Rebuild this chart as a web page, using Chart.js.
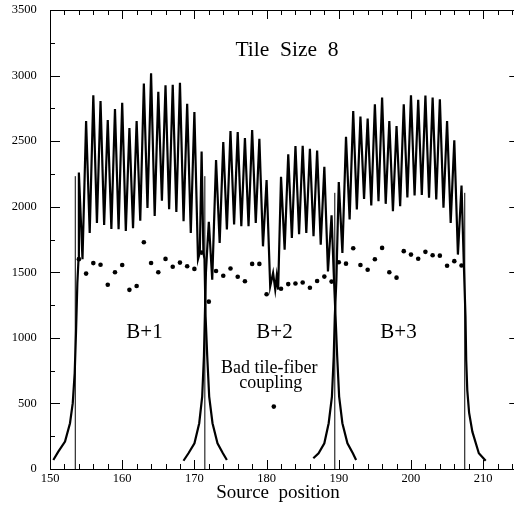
<!DOCTYPE html>
<html>
<head>
<meta charset="utf-8">
<script src="https://cdn.jsdelivr.net/npm/chart.js@4.4.1/dist/chart.umd.min.js"></script>
<style>
  html, body { margin: 0; padding: 0; background: #fff; overflow: hidden; }
  #wrap { width: 514px; height: 511px; }
</style>
</head>
<body>
<div id="wrap"><canvas id="c" width="514" height="511"></canvas></div>
<script>
// ---- axis ticks ----
const xTicks = [150, 160, 170, 180, 190, 200, 210];
const yTicks = [0, 500, 1000, 1500, 2000, 2500, 3000, 3500];

// ---- module B+1 scan (source position, signal) ----
const b1X = [150.46,151.15,152.08,152.77,153.15,153.42,153.6,153.79,153.95,
  154.0,154.5,155,155.5,156,156.5,157,157.5,158,158.5,159,159.5,160,160.5,161,161.5,162,162.5,163,163.5,164,164.5,165,165.5,166,166.5,167,167.5,168,168.5,169,169.5,170,170.5,
  170.75,171,171.25,171.4,
  171.55,171.78,172.05,172.51,173.2,173.95,174.5];
const b1Y = [69,132,209,349,502,731,1037,1419,1600,
  2260,1600,2653,1800,2850,1877,2806,1860,2661,1830,2745,1828,2792,1815,2600,1836,2653,1893,2939,1990,3018,1930,2877,2045,2926,1980,2930,1960,2945,1890,2785,1800,2722,1600,
  1650,2420,1650,1600,
  1164,858,552,349,196,120,69];

// ---- module B+2 scan ----
const b2X = [168.49,169.18,170.01,170.67,171.08,171.32,171.45,171.6,171.8,
  172.0,172.47,173,173.5,174,174.5,175,175.5,176,176.5,177,177.5,178,178.5,179,179.5,180,
  180.5,180.9,181.2,181.4,181.6,
  182,182.5,183,183.5,184,184.5,185,185.5,186,186.5,187,187.5,188,188.5,189,189.3,
  189.55,189.78,190.05,190.5,191.2,191.95,192.4];
const b2Y = [63,120,196,349,552,858,1164,1500,1700,
  1885,1444,2356,1724,2493,1826,2577,1864,2569,1851,2523,1851,2585,1877,2518,1698,2203,
  1393,1495,1368,1469,1368,
  2228,1673,2399,1762,2462,1790,2465,1800,2442,1775,2429,1711,2305,1507,1935,1495,
  1164,858,552,349,196,120,69];

// ---- module B+3 scan ----
const b3X = [186.47,187.2,188.0,188.6,189.05,189.3,189.45,189.67,
  190,190.5,191,191.5,192,192.5,193,193.5,194,194.5,195,195.5,196,196.5,197,197.5,198,198.5,199,199.5,200,200.5,201,201.5,202,202.5,203,203.5,204,204.5,205,205.5,206,206.5,207,
  207.3,
  207.55,207.65,207.8,208.05,208.5,209.4,210.35];
const b3Y = [82,120,196,349,552,858,1164,1444,
  2188,1648,2534,1902,2730,1979,2687,2060,2672,2009,2781,2042,2832,2022,2653,1966,2615,2004,2781,2070,2850,2085,2815,2090,2848,2068,2832,2055,2819,1992,2653,1877,2506,1635,2162,
  1600,
  1164,831,600,430,285,120,63];

// ---- module edges (thin vertical markers) ----
const edgeX = [153.5, 171.45, 189.45, 207.45];
const edgeTop = [2233, 2233, 2106, 2106];

// ---- per-tile points ----
const dotX = [154,155,156,157,158,159,160,161,162,163,164,165,166,167,168,169,170,171,
  172,173,174,175,176,177,178,179,180,181,182,183,184,185,186,187,188,189,
  190,191,192,193,194,195,196,197,198,199,200,201,202,203,204,205,206,207];
const dotY = [1600,1490,1570,1558,1405,1500,1556,1366,1395,1729,1571,1500,1602,1542,1574,1546,1526,1650,
  1276,1510,1474,1529,1466,1432,1564,1564,1333,476,1374,1410,1414,1422,1382,1434,1467,1429,
  1576,1566,1683,1555,1519,1599,1686,1500,1459,1661,1635,1603,1656,1630,1627,1550,1585,1552];

const SERIF = '"Liberation Serif", "Times New Roman", Times, serif';

function pts(xs, ys) { return xs.map((x, i) => ({ x: x, y: ys[i] })); }

const curveStyle = { type: 'line', borderColor: '#000', borderWidth: 2.2, pointRadius: 0, tension: 0, fill: false };

const datasets = [
  Object.assign({ label: 'B+1', data: pts(b1X, b1Y) }, curveStyle),
  Object.assign({ label: 'B+2', data: pts(b2X, b2Y) }, curveStyle),
  Object.assign({ label: 'B+3', data: pts(b3X, b3Y) }, curveStyle)
];
edgeX.forEach((x, i) => {
  datasets.push({ type: 'line', label: 'edge' + i, data: [{ x: x, y: 0 }, { x: x, y: edgeTop[i] }],
    borderColor: '#000', borderWidth: 1, pointRadius: 0, fill: false });
});
datasets.push({ type: 'scatter', label: 'tiles', data: pts(dotX, dotY),
  pointRadius: 2.3, pointBackgroundColor: '#000', pointBorderColor: '#000', pointBorderWidth: 0, showLine: false });

const frame = {
  id: 'frame',
  afterDraw(chart) {
    const ctx = chart.ctx, a = chart.chartArea;
    const xs = chart.scales.x, ys = chart.scales.y;
    const rightEdge = xs.getPixelForValue(215);
    ctx.save();
    ctx.strokeStyle = '#000';
    ctx.lineWidth = 1;
    ctx.beginPath();
    ctx.moveTo(a.left + 0.5, a.top + 0.5); ctx.lineTo(rightEdge, a.top + 0.5);
    ctx.moveTo(a.left + 0.5, a.top); ctx.lineTo(a.left + 0.5, a.bottom + 0.5);
    ctx.moveTo(a.left, a.bottom + 0.5); ctx.lineTo(rightEdge, a.bottom + 0.5);
    ctx.moveTo(rightEdge, a.top); ctx.lineTo(rightEdge, a.bottom);
    for (let v = 150; v <= 215; v += 2) {
      const p = Math.round(xs.getPixelForValue(v)) + 0.5;
      const len = (v % 10 === 0) ? 9 : 5;
      ctx.moveTo(p, a.bottom); ctx.lineTo(p, a.bottom - len);
      ctx.moveTo(p, a.top); ctx.lineTo(p, a.top + len);
    }
    for (let v = ys.min; v <= ys.max + 1e-9; v += 250) {
      const p = Math.round(ys.getPixelForValue(v)) + 0.5;
      const len = (v % 500 === 0) ? 10 : 5;
      ctx.moveTo(a.left, p); ctx.lineTo(a.left + len, p);
      ctx.moveTo(rightEdge, p); ctx.lineTo(rightEdge - len, p);
    }
    ctx.stroke();

    ctx.fillStyle = '#000';
    ctx.textAlign = 'center';
    ctx.textBaseline = 'alphabetic';
    const txt = (s, x, y, size) => {
      ctx.font = size + 'px ' + SERIF;
      ctx.fillText(s, xs.getPixelForValue(x), ys.getPixelForValue(y));
    };
    txt('Tile  Size  8', 182.83, 3149, 21.5);
    txt('B+1', 163.09, 997, 21);
    txt('B+2', 181.09, 997, 21);
    txt('B+3', 198.27, 997, 21);
    txt('Bad tile-fiber', 180.36, 734, 18);
    txt('coupling', 180.58, 620, 18);
    ctx.font = '19px ' + SERIF;
    ctx.fillText('Source  position', 278, 498);
    ctx.restore();
  }
};

const zeroPad = s => { s.paddingTop = 0; s.paddingBottom = 0; s.paddingLeft = 0; s.paddingRight = 0; };

new Chart(document.getElementById('c'), {
  data: { datasets: datasets },
  options: {
    responsive: false,
    animation: false,
    layout: { autoPadding: false, padding: { top: 10, right: 0, left: 0, bottom: 0 } },
    plugins: { legend: { display: false }, tooltip: { enabled: false } },
    scales: {
      x: {
        type: 'linear', min: 150, max: 214.27,
        afterBuildTicks: s => { s.ticks = xTicks.map(v => ({ value: v })); },
        afterFit: s => { s.height = 42; zeroPad(s); },
        grid: { display: false, drawTicks: false },
        border: { display: false },
        ticks: { color: '#000', padding: 2.5, maxRotation: 0, font: { family: SERIF, size: 12.5 },
          callback: v => String(v) }
      },
      y: {
        type: 'linear', min: 0, max: 3500,
        afterBuildTicks: s => { s.ticks = yTicks.map(v => ({ value: v })); },
        afterFit: s => { s.width = 50; zeroPad(s); },
        grid: { display: false, drawTicks: false },
        border: { display: false },
        ticks: { color: '#000', padding: 13.3, font: { family: SERIF, size: 12.5 },
          callback: v => String(v) }
      }
    }
  },
  plugins: [frame]
});
</script>
</body>
</html>
